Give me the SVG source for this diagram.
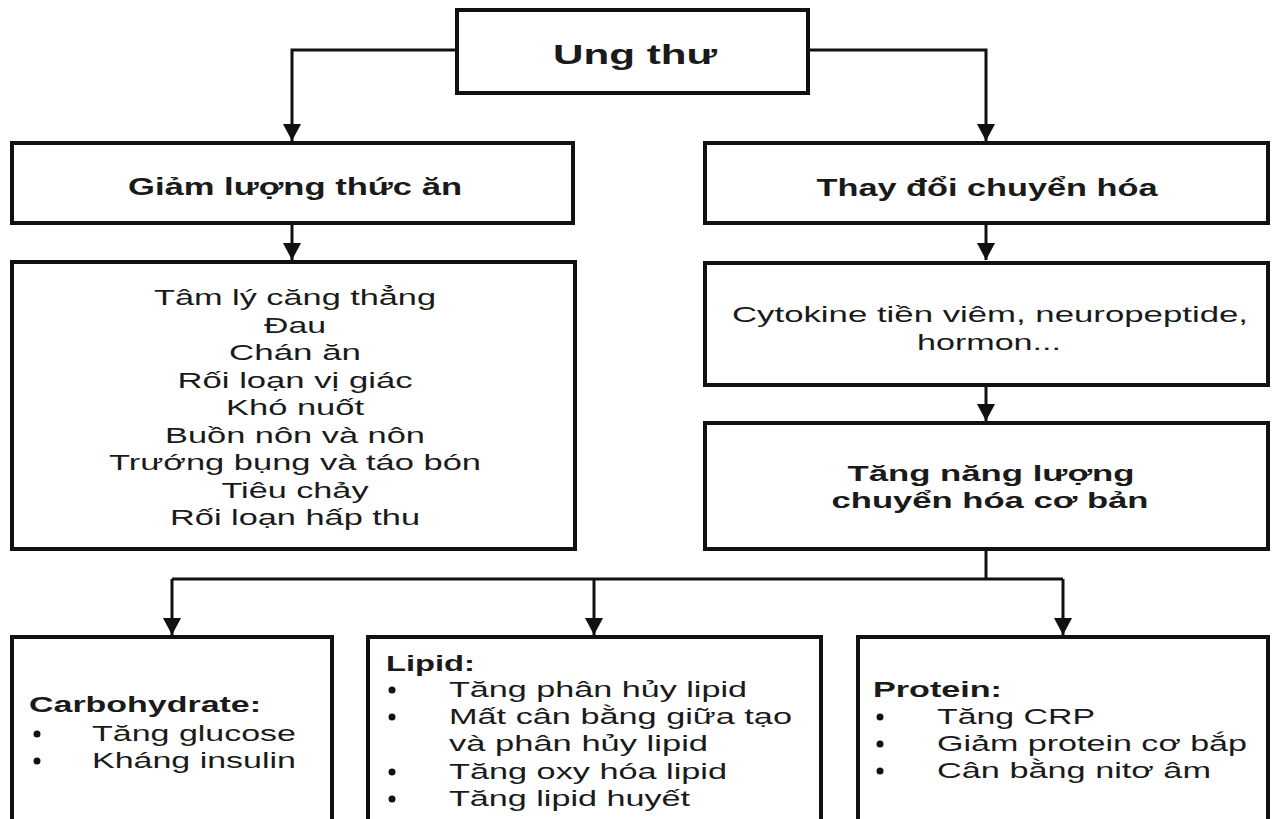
<svg xmlns="http://www.w3.org/2000/svg" width="1276" height="819" viewBox="0 0 1276 819">
<style>
  .box { fill: #ffffff; stroke: #111111; stroke-width: 4; }
  .con { fill: none; stroke: #111111; stroke-width: 3; }
  text { font-family: "Liberation Sans", Arial, sans-serif; fill: #1a1a1a; }
  .h { font-weight: bold; font-size: 24px; }
  .t { font-size: 22px; }
  .b { font-weight: bold; font-size: 22px; }
  .c { text-anchor: middle; }
  .dot { fill: #111111; }
</style>
<defs>
  <marker id="arr" markerUnits="userSpaceOnUse" markerWidth="17" markerHeight="18" refX="17" refY="9" orient="auto" viewBox="0 0 17 18">
    <path d="M0,0 L17,9 L0,18 z" fill="#111111"/>
  </marker>
</defs>
<rect width="1276" height="819" fill="#ffffff"/>

<g id="connectors">
  <path class="con" d="M457,50 H292 V141" marker-end="url(#arr)"/>
  <path class="con" d="M808,50 H986 V141" marker-end="url(#arr)"/>
  <path class="con" d="M292,223 V260" marker-end="url(#arr)"/>
  <path class="con" d="M986,223 V260" marker-end="url(#arr)"/>
  <path class="con" d="M986,385 V421" marker-end="url(#arr)"/>
  <path class="con" d="M986,549 V579"/>
  <path class="con" d="M172,579 H1063"/>
  <path class="con" d="M172,579 V635" marker-end="url(#arr)"/>
  <path class="con" d="M594,579 V635" marker-end="url(#arr)"/>
  <path class="con" d="M1063,579 V635" marker-end="url(#arr)"/>
</g>

<g id="ung-thu">
  <rect class="box" x="457" y="10" width="351" height="83"/>
  <text class="h c" x="635" y="64" textLength="164" lengthAdjust="spacingAndGlyphs" style="font-size:27px">Ung thư</text>
</g>

<g id="giam-luong">
  <rect class="box" x="12" y="143" width="561" height="80"/>
  <text class="h c" x="295" y="195" textLength="334" lengthAdjust="spacingAndGlyphs">Giảm lượng thức ăn</text>
</g>

<g id="thay-doi">
  <rect class="box" x="705" y="143" width="563" height="80"/>
  <text class="h c" x="987" y="196" textLength="341" lengthAdjust="spacingAndGlyphs">Thay đổi chuyển hóa</text>
</g>

<g id="nguyen-nhan">
  <rect class="box" x="12" y="262" width="563" height="287"/>
  <text class="t c" x="295" y="305" textLength="282" lengthAdjust="spacingAndGlyphs">Tâm lý căng thẳng</text>
  <text class="t c" x="295" y="333" textLength="62" lengthAdjust="spacingAndGlyphs">Đau</text>
  <text class="t c" x="295" y="360" textLength="132" lengthAdjust="spacingAndGlyphs">Chán ăn</text>
  <text class="t c" x="295" y="388" textLength="235" lengthAdjust="spacingAndGlyphs">Rối loạn vị giác</text>
  <text class="t c" x="295" y="415" textLength="138" lengthAdjust="spacingAndGlyphs">Khó nuốt</text>
  <text class="t c" x="295" y="443" textLength="260" lengthAdjust="spacingAndGlyphs">Buồn nôn và nôn</text>
  <text class="t c" x="295" y="470" textLength="372" lengthAdjust="spacingAndGlyphs">Trướng bụng và táo bón</text>
  <text class="t c" x="295" y="498" textLength="147" lengthAdjust="spacingAndGlyphs">Tiêu chảy</text>
  <text class="t c" x="295" y="525" textLength="250" lengthAdjust="spacingAndGlyphs">Rối loạn hấp thu</text>
</g>

<g id="cytokine">
  <rect class="box" x="705" y="263" width="563" height="122"/>
  <text class="t c" x="990" y="322" textLength="516" lengthAdjust="spacingAndGlyphs">Cytokine tiền viêm, neuropeptide,</text>
  <text class="t c" x="989" y="350" textLength="144" lengthAdjust="spacingAndGlyphs">hormon...</text>
</g>

<g id="tang-nang-luong">
  <rect class="box" x="705" y="423" width="563" height="126"/>
  <text class="b c" x="991" y="481" textLength="287" lengthAdjust="spacingAndGlyphs">Tăng năng lượng</text>
  <text class="b c" x="990" y="508" textLength="317" lengthAdjust="spacingAndGlyphs">chuyển hóa cơ bản</text>
</g>

<g id="carbohydrate">
  <rect class="box" x="12" y="637" width="320" height="190"/>
  <text class="b" x="29" y="712" textLength="232" lengthAdjust="spacingAndGlyphs">Carbohydrate:</text>
  <circle class="dot" cx="37" cy="734" r="3.5"/>
  <text class="t" x="92" y="741" textLength="204" lengthAdjust="spacingAndGlyphs">Tăng glucose</text>
  <circle class="dot" cx="37" cy="761" r="3.5"/>
  <text class="t" x="92" y="768" textLength="204" lengthAdjust="spacingAndGlyphs">Kháng insulin</text>
</g>

<g id="lipid">
  <rect class="box" x="368" y="637" width="453" height="190"/>
  <text class="b" x="386" y="671" textLength="89" lengthAdjust="spacingAndGlyphs">Lipid:</text>
  <circle class="dot" cx="392" cy="690" r="3.5"/>
  <text class="t" x="449" y="697" textLength="298" lengthAdjust="spacingAndGlyphs">Tăng phân hủy lipid</text>
  <circle class="dot" cx="392" cy="717" r="3.5"/>
  <text class="t" x="449" y="724" textLength="343" lengthAdjust="spacingAndGlyphs">Mất cân bằng giữa tạo</text>
  <text class="t" x="449" y="751" textLength="259" lengthAdjust="spacingAndGlyphs">và phân hủy lipid</text>
  <circle class="dot" cx="392" cy="772" r="3.5"/>
  <text class="t" x="449" y="779" textLength="278" lengthAdjust="spacingAndGlyphs">Tăng oxy hóa lipid</text>
  <circle class="dot" cx="392" cy="799" r="3.5"/>
  <text class="t" x="449" y="806" textLength="241" lengthAdjust="spacingAndGlyphs">Tăng lipid huyết</text>
</g>

<g id="protein">
  <rect class="box" x="858" y="637" width="410" height="190"/>
  <text class="b" x="873" y="697" textLength="129" lengthAdjust="spacingAndGlyphs">Protein:</text>
  <circle class="dot" cx="880" cy="717" r="3.5"/>
  <text class="t" x="937" y="724" textLength="158" lengthAdjust="spacingAndGlyphs">Tăng CRP</text>
  <circle class="dot" cx="880" cy="744" r="3.5"/>
  <text class="t" x="937" y="751" textLength="310" lengthAdjust="spacingAndGlyphs">Giảm protein cơ bắp</text>
  <circle class="dot" cx="880" cy="771" r="3.5"/>
  <text class="t" x="937" y="778" textLength="274" lengthAdjust="spacingAndGlyphs">Cân bằng nitơ âm</text>
</g>
</svg>
